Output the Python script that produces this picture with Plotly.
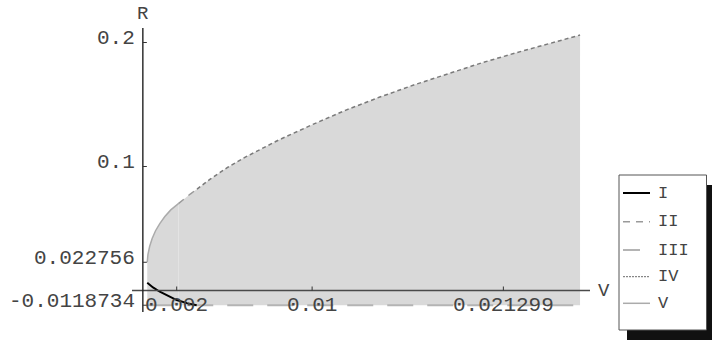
import plotly.graph_objects as go

# ---------------- data ----------------
# upper boundary, split into the three styled pieces (V, II, IV)
seg_V_x = [0.00026, 0.00030, 0.00040, 0.00055, 0.00075, 0.00100, 0.00130, 0.00165, 0.00210]
seg_V_y = [0.022756, 0.0290, 0.0355, 0.0420, 0.0482, 0.0540, 0.0596, 0.0650, 0.0700]
seg_II_x = [0.00210, 0.00240, 0.00280, 0.00320]
seg_II_y = [0.0700, 0.0735, 0.0778, 0.0818]
seg_IV_x = [0.00320, 0.00400, 0.00500, 0.00600, 0.00800, 0.01000, 0.01200, 0.01400,
            0.01600, 0.01800, 0.02000, 0.02200, 0.02400, 0.02583]
seg_IV_y = [0.0818, 0.0900, 0.0992, 0.1072, 0.1212, 0.1337, 0.1455, 0.1560,
            0.1657, 0.1748, 0.1835, 0.1915, 0.1992, 0.2060]
# curve I (black)
curve_I_x = [0.00026, 0.00060, 0.00100, 0.00150, 0.00200, 0.00260, 0.00318]
curve_I_y = [0.0063, 0.0025, -0.0010, -0.0045, -0.0077, -0.0102, -0.0118734]
# curve III (bottom, horizontal)
curve_III_x = [0.00026, 0.02583]
curve_III_y = [-0.0118734, -0.0118734]
R_bottom = -0.0118734

x_ticks = [0.002, 0.01, 0.021299]
x_tick_labels = ["0.002", "0.01", "0.021299"]
y_ticks = [-0.0118734, 0.022756, 0.1, 0.2]
y_tick_labels = ["-0.0118734", "0.022756", "0.1", "0.2"]

legend_names = ["I", "II", "III", "IV", "V"]

# ---------------- styles ----------------
FONT = "Courier New, Courier, Nimbus Mono PS, Liberation Mono, monospace"
TXT = "#444444"
FILL = "#d9d9d9"
styles = {
    "I": dict(color="#000000", width=2, dash="solid"),
    "II": dict(color="#9a9a9a", width=1.5, dash="7px,6px"),
    "III": dict(color="#b4b4b4", width=2, dash="26px,14px"),
    "IV": dict(color="#7a7a7a", width=1.5, dash="4px,3px"),
    "V": dict(color="#ababab", width=1.5, dash="solid"),
}
legend_styles = dict(styles)
legend_styles["III"] = dict(color="#b4b4b4", width=2, dash="17px,20px")
legend_styles["IV"] = dict(color="#6a6a6a", width=1, dash="2px,1px")

W, H = 714, 341
ML, MR, MT, MB = 132, 124, 28, 29
PW, PH = W - ML - MR, H - MT - MB


def px_x(x):
    return (x - ML) / PW


def px_y(y):
    return (H - MB - y) / PH


fig = go.Figure()

# fills
for sx, sy in [(seg_V_x, seg_V_y), (seg_II_x, seg_II_y), (seg_IV_x, seg_IV_y)]:
    fig.add_trace(go.Scatter(
        x=sx + [sx[-1], sx[0]], y=sy + [R_bottom, R_bottom],
        fill="toself", fillcolor=FILL, mode="lines",
        line=dict(width=0, color="rgba(0,0,0,0)"), hoverinfo="skip", showlegend=False))

# lines
for name, sx, sy in [("III", curve_III_x, curve_III_y), ("V", seg_V_x, seg_V_y),
                     ("II", seg_II_x, seg_II_y), ("IV", seg_IV_x, seg_IV_y),
                     ("I", curve_I_x, curve_I_y)]:
    fig.add_trace(go.Scatter(x=sx, y=sy, mode="lines", line=styles[name],
                             name=name, showlegend=False))

shapes = []
# axes
shapes.append(dict(type="line", xref="paper", yref="y", x0=0, x1=1, y0=0, y1=0,
                   line=dict(color="#4a4a4a", width=1.6), layer="above"))
shapes.append(dict(type="line", xref="x", yref="paper", x0=0, x1=0, y0=0, y1=1,
                   line=dict(color="#222222", width=1.4), layer="above"))
# tick marks
for t in x_ticks:
    shapes.append(dict(type="line", xref="x", yref="y", ysizemode="pixel", yanchor=0,
                       x0=t, x1=t, y0=0, y1=4, line=dict(color="#333", width=1)))
for t in y_ticks:
    shapes.append(dict(type="line", xref="x", yref="y", xsizemode="pixel", xanchor=0,
                       y0=t, y1=t, x0=0, x1=4, line=dict(color="#333", width=1)))

annotations = []
for t, lab in zip(x_ticks, x_tick_labels):
    annotations.append(dict(x=t, y=0, xref="x", yref="y", text=lab, showarrow=False,
                            xanchor="center", yanchor="middle", yshift=-14.5,
                            font=dict(family=FONT, size=21, color=TXT)))
for t, lab in zip(y_ticks, y_tick_labels):
    annotations.append(dict(x=0, y=t, xref="x", yref="y", text=lab, showarrow=False,
                            xanchor="right", yanchor="middle", xshift=-6, yshift=4,
                            font=dict(family=FONT, size=21, color=TXT)))
annotations.append(dict(x=0, y=1, xref="x", yref="paper", text="R", showarrow=False,
                        xanchor="center", yanchor="middle", yshift=14,
                        font=dict(family=FONT, size=19, color=TXT)))
annotations.append(dict(x=1, y=0, xref="paper", yref="y", text="V", showarrow=False,
                        xanchor="left", yanchor="middle", xshift=6,
                        font=dict(family=FONT, size=19, color=TXT)))

# legend (manual)
bx0, by0, bx1, by1 = 619, 175, 706.5, 330
shapes.append(dict(type="rect", xref="paper", yref="paper",
                   x0=px_x(bx0 + 8), x1=px_x(bx1 + 5.5), y0=px_y(by1 + 10), y1=px_y(by0 + 10),
                   fillcolor="#111111", line=dict(width=0), layer="above"))
shapes.append(dict(type="rect", xref="paper", yref="paper",
                   x0=px_x(bx0), x1=px_x(bx1), y0=px_y(by1), y1=px_y(by0),
                   fillcolor="#ffffff", line=dict(color="#555555", width=1), layer="above"))
row_y = [193, 221.7, 250, 276.7, 303.3]
for name, ry in zip(legend_names, row_y):
    shapes.append(dict(type="line", xref="paper", yref="paper",
                       x0=px_x(623), x1=px_x(650), y0=px_y(ry), y1=px_y(ry),
                       line=legend_styles[name], layer="above"))
    annotations.append(dict(x=px_x(656), y=px_y(ry), xref="paper", yref="paper",
                            text=name, showarrow=False, xanchor="left", yanchor="middle",
                            font=dict(family=FONT, size=17, color=TXT)))

fig.update_layout(
    width=W, height=H,
    margin=dict(l=ML, r=MR, t=MT, b=MB, pad=0),
    paper_bgcolor="white", plot_bgcolor="white",
    xaxis=dict(range=[-0.000641, 0.026418], visible=False),
    yaxis=dict(range=[-0.01734, 0.21169], visible=False),
    shapes=shapes, annotations=annotations, showlegend=False,
)

fig.write_html("out.html")
